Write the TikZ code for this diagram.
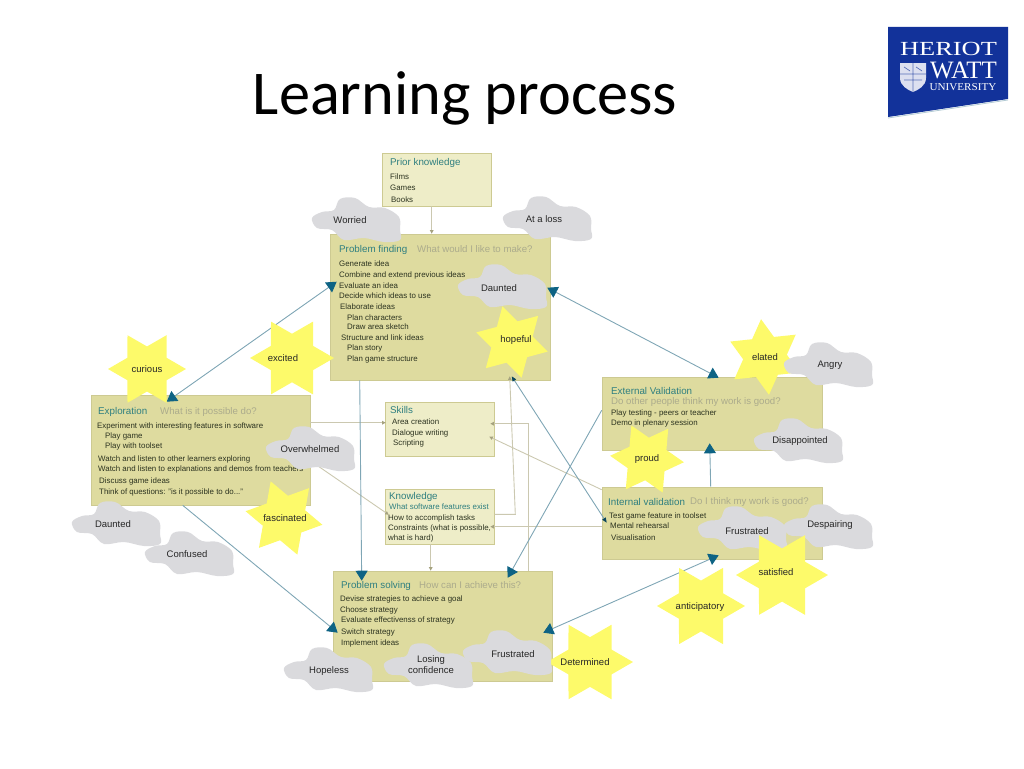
\documentclass[tikz,border=0pt]{standalone}
\usepackage{fontspec}
\setmainfont{Liberation Sans}
\newfontfamily\titlefont{Carlito}
\newfontfamily\logofont{Liberation Serif}
\usetikzlibrary{arrows.meta,shapes.geometric}
\definecolor{boxdark}{HTML}{DEDB9F}
\definecolor{boxlight}{HTML}{EEEDC8}
\definecolor{boxedge}{HTML}{CDCA92}
\definecolor{headteal}{HTML}{2F7F80}
\definecolor{asktan}{HTML}{ABAB8C}
\definecolor{rowink}{HTML}{2C3320}
\definecolor{starfill}{HTML}{FDFA6A}
\definecolor{cloudfill}{HTML}{DADADD}
\definecolor{linkblue}{HTML}{7FA6B5}
\definecolor{tipblue}{HTML}{0E6384}
\definecolor{linktan}{HTML}{CBC8B0}
\definecolor{tiptan}{HTML}{A5A27F}
\definecolor{logoblue}{HTML}{12329A}
\tikzset{
	stage/.style={draw=boxedge,line width=0.6pt,inner sep=0pt},
	headtext/.style={anchor=west,inner sep=0pt,text=headteal,font=\fontsize{9.8}{11}\selectfont},
	asktext/.style={anchor=west,inner sep=0pt,text=asktan,font=\fontsize{9.65}{11}\selectfont},
	rowtext/.style={anchor=west,inner sep=0pt,text=rowink,font=\fontsize{7.9}{9}\selectfont},
	moodtext/.style={inner sep=0pt,align=center,text=black!85,font=\fontsize{9.5}{11}\selectfont},
	moodstar/.style={star,star points=6,star point ratio=1.73,fill=starfill,inner sep=0pt},
	moodcloud/.pic={
		\fill[cloudfill] plot[smooth cycle,tension=0.6] coordinates {(-44,-2) (-34,-8) (-22,-10) (-16,-21) (-1,-22) (13,-13) (29,-12) (43,-3) (44,10) (44,20) (28,22) (8,18) (-12,20) (-24,10) (-39,8)};
	},
	bluelink/.style={draw=linkblue,line width=0.9pt,>={Triangle[length=10pt,width=12pt,color=tipblue]}},
	smalllink/.style={draw=linkblue,line width=0.9pt,>={Triangle[length=5pt,width=4pt,color=tipblue!70!black]}},
	tanlink/.style={draw=linktan,line width=0.9pt,>={Triangle[length=3.5pt,width=3.5pt,color=tiptan]}}
}
\begin{document}
\begin{tikzpicture}[x=1pt,y=-1pt]
\useasboundingbox (0,0) rectangle (1024,768);

\node[inner sep=0pt,font=\titlefont\fontsize{62.3}{66}\selectfont] (title) at (465,98) {Learning process};

\fill[logoblue] (888,27) -- (1008,27) -- (1008,99) -- (888,117) -- cycle;
\draw[linkblue!60,line width=0.8pt] (888,118) -- (1008,100);
\node[text=white,inner sep=0pt,font=\logofont\fontsize{20}{20}\selectfont,xscale=1.32,transform shape] (heriot) at (948.5,49) {HERIOT};
\node[text=white,inner sep=0pt,font=\logofont\fontsize{25}{25}\selectfont] (watt) at (963.5,70) {WATT};
\node[text=white,inner sep=0pt,font=\logofont\fontsize{10.5}{11}\selectfont,xscale=1.06,transform shape] (univ) at (963,87.5) {UNIVERSITY};
\fill[white!85!logoblue] (900,63) -- (926,63) -- (926,78) .. controls (926,86) and (918,90) .. (913,92) .. controls (908,90) and (900,86) .. (900,78) -- cycle;
\draw[logoblue!70,line width=0.7pt] (900,74) -- (926,74) (913,63) -- (913,92) (904,67) -- (910,71) (916,67) -- (922,71) (904,80) -- (922,80);

\foreach \n/\f/\l/\u/\r/\b in {prior/boxlight/382/153/491/206,pfind/boxdark/330/234/550/380,explo/boxdark/91/395/310/505,skills/boxlight/385/402/494/456,know/boxlight/385/489/494/544,extval/boxdark/602/377/822/450,intval/boxdark/602/487/822/559,psolve/boxdark/333/571/552/681}
{
	\node[stage,fill=\f,minimum width=\r-\l,minimum height=\b-\u] (\n) at ({(\l+\r)/2},{(\u+\b)/2}) {};
}

\foreach \n/\x/\y/\t in {priorT/390/163/Prior knowledge,pfindT/339/250/Problem finding,exploT/98/412/Exploration,skillsT/390/410/Skills,knowT/389/497/Knowledge,extvalT/611/391/External Validation,intvalT/608/502/Internal validation,psolveT/341/586/Problem solving}
{
	\node[headtext] (\n) at (\x,\y) {\t};
}

\foreach \n/\x/\y/\t in {pfindQ/417/249/What would I like to make?,exploQ/160/411.5/What is it possible do?,extvalQ/611/402/Do other people think my work is good?,intvalQ/690/502/Do I think my work is good?,psolveQ/419/585/How can I achieve this?}
{
	\node[asktext] (\n) at (\x,\y) {\t};
}

\foreach \x/\y/\t [count=\i] in {390/176.5/Films,390/188/Games,391/199.5/Books}
{
	\node[rowtext] (prior\i) at (\x,\y) {\t};
}

\foreach \x/\y/\t [count=\i] in {339/264/Generate idea,339/275/Combine and extend previous ideas,339/285.5/Evaluate an idea,339/296/Decide which ideas to use,340/307/Elaborate ideas,347/318/Plan characters,347/326.5/Draw area sketch,341/337.5/Structure and link ideas,347/348/Plan story,347/359/Plan game structure}
{
	\node[rowtext] (pfind\i) at (\x,\y) {\t};
}

\foreach \x/\y/\t [count=\i] in {97/426.5/Experiment with interesting features in software,105/436/Play game,105/446/Play with toolset,98/459/Watch and listen to other learners exploring,98/469.5/Watch and listen to explanations and demos from teachers,99/481/Discuss game ideas}
{
	\node[rowtext] (explo\i) at (\x,\y) {\t};
}
\node[rowtext] (explo7) at (99,492) {Think of questions: "is it possible to do..."};

\foreach \x/\y/\t [count=\i] in {392/421.5/Area creation,392/433/Dialogue writing,393/443.5/Scripting}
{
	\node[rowtext] (skills\i) at (\x,\y) {\t};
}

\foreach \x/\y/\t [count=\i] in {388/518/How to accomplish tasks,388/528.5/{Constraints (what is possible,},388/538/what is hard)}
{
	\node[rowtext] (know\i) at (\x,\y) {\t};
}
\node[rowtext,text=headteal] (know0) at (389,506.5) {What software features exist};

\foreach \x/\y/\t [count=\i] in {611/413/Play testing - peers or teacher,611/423.5/Demo in plenary session}
{
	\node[rowtext] (extval\i) at (\x,\y) {\t};
}

\foreach \x/\y/\t [count=\i] in {609/516/Test game feature in toolset,610/526/Mental rehearsal,611/538/Visualisation}
{
	\node[rowtext] (intval\i) at (\x,\y) {\t};
}

\foreach \x/\y/\t [count=\i] in {340/599/Devise strategies to achieve a goal,340/610/Choose strategy,341/620/Evaluate effectivenss of strategy,341/632.5/Switch strategy,341/643/Implement ideas}
{
	\node[rowtext] (psolve\i) at (\x,\y) {\t};
}

\draw[->,tanlink] ([shift={(50,0)}]prior.south west) -- ([shift={(102,0)}]pfind.north west);
\draw[->,tanlink] ([shift={(0,28)}]explo.north east) -- ([shift={(1,21)}]skills.north west);
\draw[->,tanlink] ([shift={(0,66)}]explo.north east) -- ([shift={(4,26)}]know.north west);
\draw[->,tanlink] ([shift={(0,-30)}]know.south east) -- ++(21,0) -- ([shift={(180,-4)}]pfind.south west);
\draw[->,tanlink] ([shift={(196,0)}]psolve.north west) |- ([shift={(-4,22)}]skills.north east);
\draw[->,tanlink] ([shift={(0,3)}]intval.north west) -- ([shift={(-5,35)}]skills.north east);
\draw[->,tanlink] ([shift={(0,40)}]intval.north west) -- ([shift={(-4,38)}]know.north east);
\draw[->,tanlink] ([shift={(46,0)}]know.south west) -- ([shift={(98,0)}]psolve.north west);

\draw[<->,bluelink] ([shift={(76,7)}]explo.north west) -- ([shift={(7,48)}]pfind.north west);
\draw[<->,bluelink] ([shift={(-3,54)}]pfind.north east) -- ([shift={(117,1)}]extval.north west);
\draw[->,bluelink] ([shift={(30,0)}]pfind.south west) -- ([shift={(29,10)}]psolve.north west);
\draw[->,bluelink] ([shift={(92,0)}]explo.south west) -- ([shift={(5,62)}]psolve.north west);
\draw[->,bluelink] ([shift={(109,0)}]intval.north west) -- ([shift={(108,-7)}]extval.south west);
\draw[->,bluelink] ([shift={(0,-40)}]extval.south west) -- ([shift={(175,7)}]psolve.north west);
\draw[<->,smalllink] ([shift={(182,-4)}]pfind.south west) -- ([shift={(5,36)}]intval.north west);
\draw[<->,bluelink] ([shift={(-9,62)}]psolve.north east) -- ([shift={(117,-4)}]intval.south west);

\foreach \n/\x/\y/\r/\a/\u/\v/\t in {curious/147/369/39/30/147/369/curious,excited/292/358/42/30/283/358/excited,fascinated/284/518/39/20/285/518/fascinated,hopeful/512/342/37/15/516/340/hopeful,elated/765/357/38/6/765/357/elated,proud/647/459/37/25/647/459/proud,anticip/701/606/44/30/700/607/anticipatory,determ/590/662/43/30/585/662/Determined}
{
	\node[moodstar,minimum size=2*\r,shape border rotate=\a] (\n) at (\x,\y) {};
	\node[moodtext] (\n T) at (\u,\v) {\t};
}

\foreach \n/\x/\y/\u/\v/\t in {worried/356/220/350/220/Worried,atloss/547/219/544/219/At a loss,dauntA/502/287/499/288/Daunted,overwh/310/449/310/449/Overwhelmed,dauntB/116/524/113/524/Daunted,confused/189/554/187/554/Confused,hopeless/328/670/329/671/Hopeless,losing/428/666/431/665/{Losing\\confidence},frustA/507/653/513/654/Frustrated,angry/828/365/830/365/Angry,disapp/798/441/800/441/Disappointed,frustB/742/529/747/531/Frustrated,despair/828/527/830/525/Despairing}
{
	\pic (\n) at (\x,\y) {moodcloud};
	\node[moodtext] (\n T) at (\u,\v) {\t};
}

\node[moodstar,minimum size=92,shape border rotate=30] (satisf) at (782,575) {};
\node[moodtext] (satisfT) at (776,572) {satisfied};
\end{tikzpicture}
\end{document}
